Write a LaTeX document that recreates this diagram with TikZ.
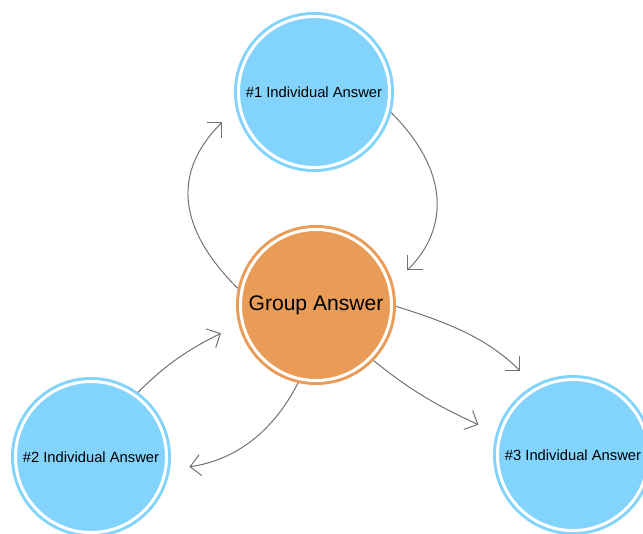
\documentclass[tikz,border=0pt]{standalone}
\usepackage{fontspec}
\setmainfont{Liberation Sans}
\usetikzlibrary{arrows.meta}

\definecolor{color1}{HTML}{83D4FC}
\definecolor{color2}{HTML}{E89C58}
\definecolor{color3}{HTML}{707070}
\tikzstyle{ring}=[
	circle,
  draw,
  fill,
  double=white,
  double distance=2.13pt,
  line width=2.13pt,
	minimum size=3.775cm,
  inner sep=0pt,
  outer sep=3.2pt,
  text=black,
  ]
\tikzstyle{answer}=[ draw=color1, fill=color1, font=\fontsize{10.5}{12}\selectfont ]
\tikzstyle{group}=[ draw=color2, fill=color2, font=\fontsize{15}{18}\selectfont ]
\tikzstyle{flow edge}=[ line width=0.7pt, color3, shorten >=13.9pt,
  -{Straight Barb[length=7.5pt, width=15pt]} ]

\begin{document}
\begin{tikzpicture}[
    x=0.025cm,
    y=0.025cm,
    ]
    \useasboundingbox (0,0) rectangle (643,-533);
    \node[ring, answer] (n1) at (314,-92) {\#1 Individual Answer};
    \node[ring, group] (ng) at (316,-305) {Group Answer};
    \node[ring, answer] (n2) at (91,-457) {\#2 Individual Answer};
    \node[ring, answer] (n3) at (573,-455) {\#3 Individual Answer};

    \draw[flow edge] (n1.-15) to[out=-45, in=45, looseness=1.2] (ng.15);
    \draw[flow edge] (ng.168) to[out=135, in=-135, looseness=1.25] (n1.-168);

    \draw[flow edge] (n2.54) to[out=45, in=-153] (ng.-166);
    \draw[flow edge] (ng.-103) to[out=-117, in=8] (n2.-9);

    \draw[flow edge] (ng.-1) to[out=-17, in=135] (n3.119);
    \draw[flow edge] (ng.-44) to[out=-39, in=155] (n3.164);
  \end{tikzpicture}
\end{document}
